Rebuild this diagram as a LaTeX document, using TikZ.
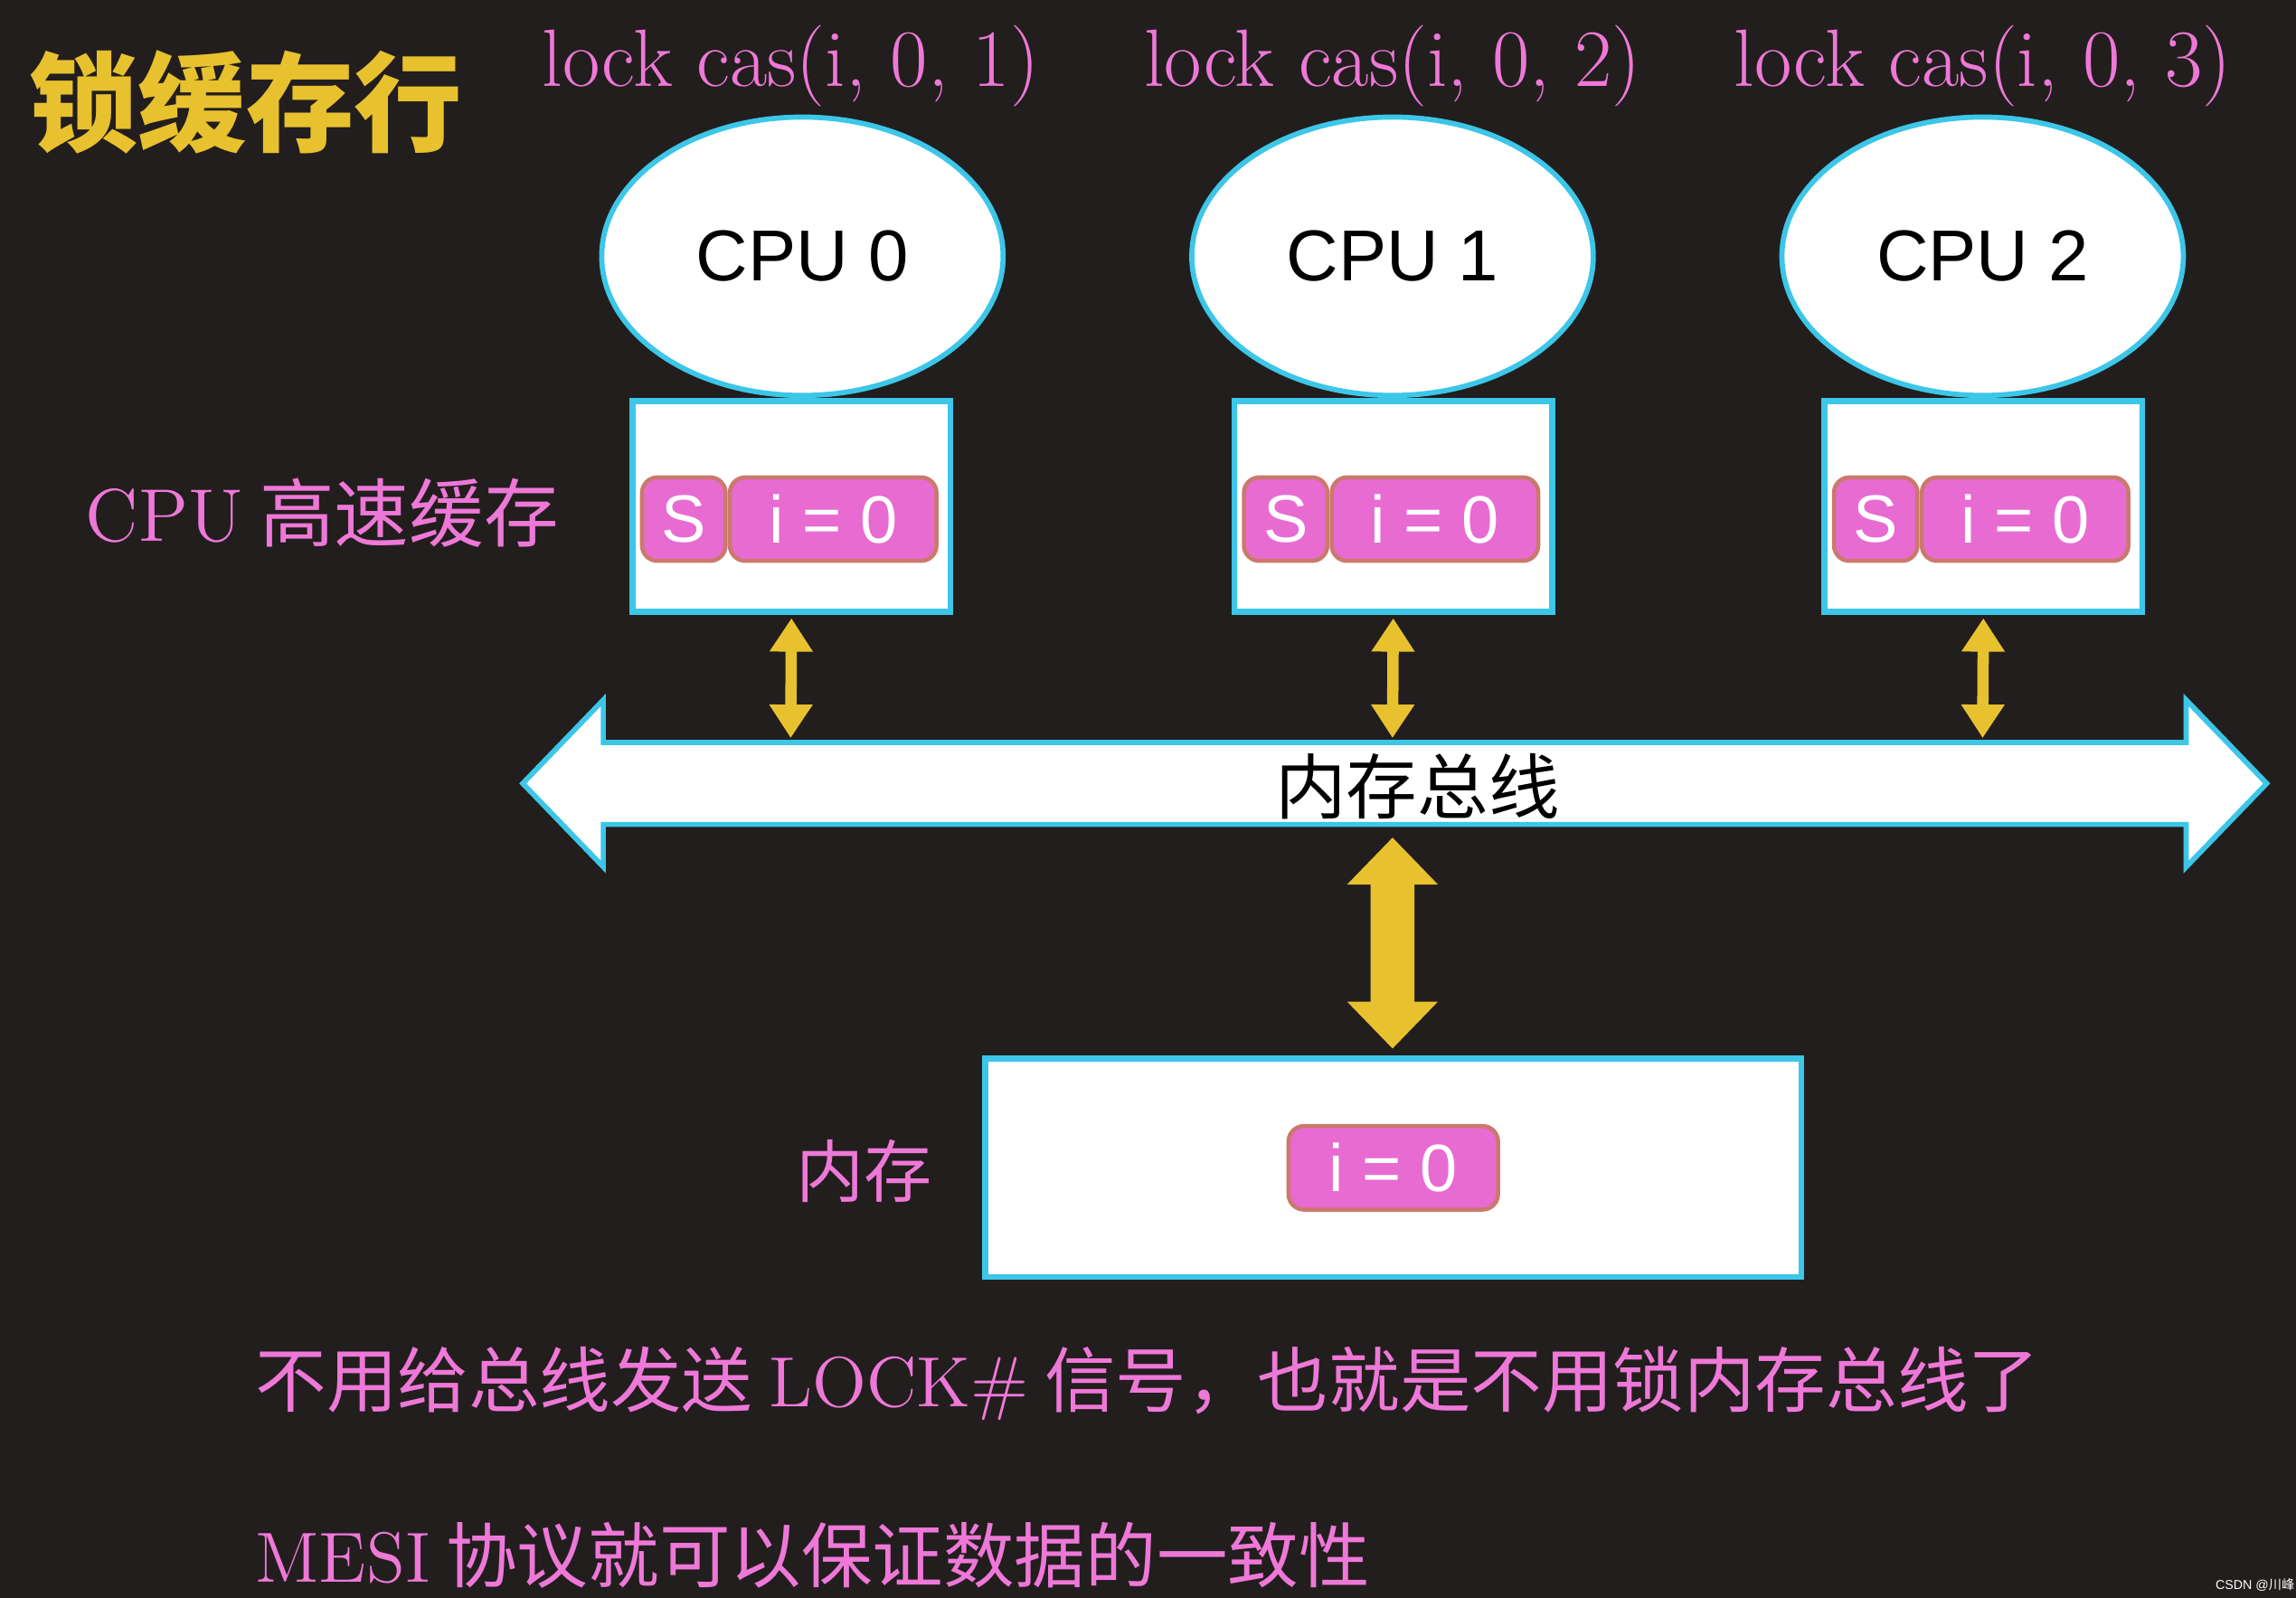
\documentclass[tikz,border=0pt]{standalone}
\usepackage{fontspec}
\setsansfont{Liberation Sans}
\newfontfamily\cjk{Noto Sans CJK SC}
\usetikzlibrary{arrows.meta,shapes.geometric}
\definecolor{bg}{HTML}{221E1D}
\definecolor{pk}{HTML}{E86BD2}
\definecolor{pkt}{HTML}{EE78D8}
\definecolor{yl}{HTML}{E8C12F}
\definecolor{cy}{HTML}{3CC6E8}
\begin{document}
\begin{tikzpicture}[x=0.01cm,y=-0.01cm,
 box/.style={draw=cy,line width=1.2pt,fill=white},
 cell/.style={draw=brown!70!pk,line width=0.8pt,fill=pk,rounded corners=3pt,text=white,font=\sffamily\fontsize{13}{15}\selectfont,inner sep=0pt},
 lbl/.style={text=pkt,font=\cjk\fontsize{13.8}{16}\selectfont},
 lock/.style={text=pkt,font=\fontsize{15.8}{17}\selectfont},
 yarr/.style={yl,line width=2.2pt,{Triangle[width=8pt,length=6.5pt]}-{Triangle[width=8pt,length=6.5pt]}}]
\useasboundingbox (0,0) rectangle (1568,1091);
\fill[bg] (0,0) rectangle (1568,1091);
\node[text=yl,font=\cjk\bfseries\fontsize{21}{24}\selectfont] (title) at (168,70) {锁缓存行};
\foreach \x/\n/\e in {540/0/548,951/1/951,1354/2/1354}{
 \node[lock] (l\n) at (\x,45) {lock cas(i, 0, \the\numexpr\n+1\relax)};
 \node[ellipse,draw=cy,line width=1pt,fill=white,minimum width=2.74cm,minimum height=1.9cm,font=\sffamily\fontsize{14}{16}\selectfont] (cpu\n) at (\e,175) {CPU \n};
 \node[box,minimum width=2.17cm,minimum height=1.44cm] (c\n) at (\x+0.5,346) {};
 \node[cell,minimum width=0.57cm,minimum height=0.57cm] (s\n) at (\x-73,354.5) {S};
 \node[cell,minimum width=1.41cm,minimum height=0.57cm] (v\n) at (\x+29,354.5) {i = 0};
 \coordinate (b\n) at (\x,504);
 \draw[yarr] (c\n.south) ++(0,2) -- (b\n);
}
\node[lbl,font=\cjk\fontsize{14.5}{16}\selectfont] (cachelbl) at (220,350) {{\rmfamily CPU} 高速缓存};
% bus
\fill[white,draw=cy,line width=1pt] (357,535) -- (412,478) -- (412,507) -- (1493,507) -- (1493,478) -- (1548,535) -- (1493,592) -- (1493,563) -- (412,563) -- (412,592) -- cycle;
\node[font=\cjk\fontsize{13.8}{16}\selectfont] (bus) at (968,537) {内存总线};
% memory
\node[box,minimum width=5.57cm,minimum height=1.49cm] (mem) at (951.5,797.5) {};
\node[cell,minimum width=1.43cm,minimum height=0.57cm] (mv) at (951.5,797.5) {i = 0};
\node[lbl,font=\cjk\fontsize{13.2}{16}\selectfont] (memlbl) at (590,800) {内存};
\fill[yl] (951,572) -- (982,604) -- (966,604) -- (966,684) -- (982,684) -- (951,716) -- (920,684) -- (936,684) -- (936,604) -- (920,604) -- cycle;
\node[lbl,anchor=west] (t1) at (162,945) {不用给总线发送 {\rmfamily LOCK\#} 信号，也就是不用锁内存总线了};
\node[lbl,anchor=west] (t2) at (162,1062) {{\rmfamily MESI} 协议就可以保证数据的一致性};
\node[text=white,font=\sffamily\fontsize{2.5}{3}\selectfont] (wm) at (1540,1082) {CSDN @{\cjk 川峰}};
\end{tikzpicture}
\end{document}
